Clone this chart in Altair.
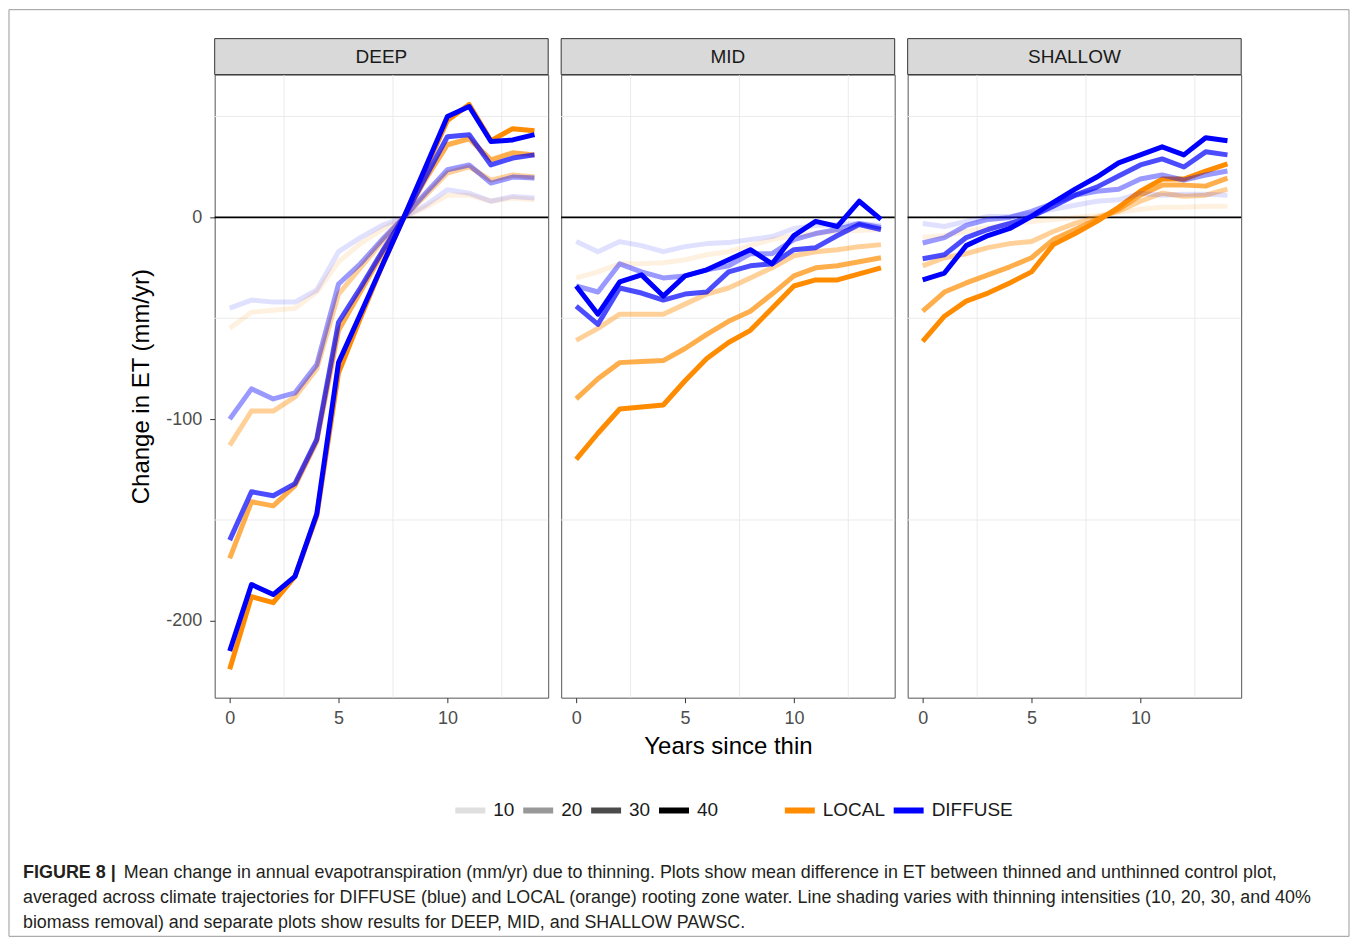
import altair as alt
import pandas as pd

FONT = "Liberation Sans"

years = list(range(15))
intensities = [10, 20, 30, 40]
sources = ["LOCAL", "DIFFUSE"]
source_colors = ["#FF8C00", "#0000FF"]
intensity_alpha = [0.12, 0.4, 0.7, 1.0]

# Mean change in ET (mm/yr) per year since thinning, by rooting depth class
deep_local = {
    10: [-55, -47, -46, -45, -37, -22, -13, -6, 0, 5, 11, 11, 8, 9.6, 8.7],
    20: [-113, -96, -96, -89, -75, -38, -25, -12, 0, 11, 22, 25, 18.5, 21, 20],
    30: [-169, -141, -143, -133, -111, -56, -37, -18, 0, 19, 36, 39, 28.5, 32, 31],
    40: [-224, -188, -191, -178, -148, -77, -50, -24, 0, 24, 48, 56, 38, 44, 43],
}
deep_diffuse = {
    10: [-45, -41, -42, -42, -36, -17, -10, -4, 0, 6, 13.7, 12, 8, 10.4, 9.6],
    20: [-100, -85, -90, -87, -73, -33, -23, -11, 0, 12, 23.6, 26, 17, 20, 19.5],
    30: [-160, -136, -138, -132, -110, -52, -35, -17, 0, 20, 40, 41, 26, 29.4, 31],
    40: [-215, -182, -187, -178, -147, -72, -48, -24, 0, 25, 50, 55, 37.6, 38.4, 41],
}
mid_local = {
    10: [-30, -27, -23, -23, -22.5, -21, -18.5, -17, -14, -11, -9, -8, -7, -6.5, -6],
    20: [-61, -55, -48, -48, -48, -43, -38, -35, -30, -25, -19, -17, -16, -14.5, -13.5],
    30: [-90, -80, -72, -71.5, -71, -65, -58, -51.5, -46.5, -38, -29, -25, -24, -22, -20],
    40: [-120, -107, -95, -94, -93, -81, -70, -62, -56, -45, -34, -31, -31, -28, -25],
}
mid_diffuse = {
    10: [-12, -17, -12, -14, -17, -14.5, -13, -12.5, -11, -9.5, -5.5, -4, -3.5, -3, -4],
    20: [-34, -37, -23, -27, -30, -29, -26, -24, -18, -18, -11, -8, -6, -3, -5],
    30: [-44, -53, -35, -37.5, -41, -38, -37, -27, -24, -23, -16, -15, -9, -3.5, -6],
    40: [-34, -48, -32, -28.5, -39, -29, -26, -21, -16, -23, -9, -2, -4.5, 8, -1],
}
shallow_local = {
    10: [-10, -9, -7, -5, -3.5, -2, -1, 0, 1, 2.5, 4, 5, 5, 5.5, 5.5],
    20: [-24, -20, -18, -15, -13, -12, -7, -3, 0, 3, 8, 12, 10.5, 11, 14],
    30: [-46.5, -37, -32.5, -28.5, -24.5, -20, -11, -6, -1, 4, 11, 16, 16, 15.5, 19.5],
    40: [-61.5, -49, -41.5, -37.5, -32.5, -27, -13.5, -8, -2, 5, 13, 19, 19, 23, 26.5],
}
shallow_diffuse = {
    10: [-3, -4.5, -2, 0.5, 0.5, 2, 4, 6, 8, 8.7, 12, 11, 11.5, 11.5, 11],
    20: [-12.7, -10, -4, -1, 0, 3, 7, 11, 13, 14, 19, 21, 18.5, 21, 23],
    30: [-20.5, -18.5, -10, -6, -3, 0.5, 5.5, 11, 15, 20.5, 26, 29, 25, 32.5, 31],
    40: [-31, -27.6, -14, -9, -5.5, 0.5, 7.5, 14, 20, 27, 31, 35, 31, 39.5, 38],
}

series = {
    ("DEEP", "LOCAL"): deep_local,
    ("DEEP", "DIFFUSE"): deep_diffuse,
    ("MID", "LOCAL"): mid_local,
    ("MID", "DIFFUSE"): mid_diffuse,
    ("SHALLOW", "LOCAL"): shallow_local,
    ("SHALLOW", "DIFFUSE"): shallow_diffuse,
}

x_ticks = [0, 5, 10]
y_ticks = [-200, -100, 0]
grid_years = [2.5, 7.5, 12.5]
grid_et = [-150, -50, 50]

caption_head = "FIGURE 8 |"
caption_lines = [
    "Mean change in annual evapotranspiration (mm/yr) due to thinning. Plots show mean difference in ET between thinned and unthinned control plot,",
    "averaged across climate trajectories for DIFFUSE (blue) and LOCAL (orange) rooting zone water. Line shading varies with thinning intensities (10, 20, 30, and 40%",
    "biomass removal) and separate plots show results for DEEP, MID, and SHALLOW PAWSC.",
]

rows = []
for (panel, source), by_intensity in series.items():
    for intensity in intensities:
        for year, value in zip(years, by_intensity[intensity]):
            rows.append({"panel": panel, "source": source, "intensity": intensity,
                         "year": year, "et": value})
df = pd.DataFrame(rows)

W, H = 334, 624
x_scale = alt.Scale(domain=[-0.69, 14.63], nice=False, zero=False)
y_scale = alt.Scale(domain=[-238.1, 70.8], nice=False, zero=False)
color_scale = alt.Scale(domain=sources, range=source_colors)
opacity_scale = alt.Scale(type="ordinal", domain=intensities, range=intensity_alpha)

opacity_legend = alt.Legend(
    title=None, orient="none", legendX=238, legendY=719, direction="horizontal",
    symbolType="stroke", symbolSize=900, symbolStrokeWidth=6, symbolStrokeColor="black",
    labelFontSize=19, labelFont=FONT, labelColor="#1a1a1a", labelOffset=5,
    columnPadding=-4, padding=0,
)
color_legend = alt.Legend(
    title=None, orient="none", legendX=568, legendY=719, direction="horizontal",
    symbolType="stroke", symbolSize=900, symbolStrokeWidth=6,
    labelFontSize=19, labelFont=FONT, labelColor="#1a1a1a", labelOffset=5,
    columnPadding=-4, padding=0,
)

# plain hyphen for negative tick labels
LABEL_EXPR = "'' + datum.value"


def x_enc(field, title):
    axis_kw = dict(values=x_ticks, labelPadding=7)
    if title:
        axis_kw.update(title=title, titleY=56, titleBaseline="alphabetic")
    else:
        axis_kw.update(title="")
    return alt.X(field, scale=x_scale, axis=alt.Axis(**axis_kw))


def y_enc(field, show_axis):
    if show_axis:
        axis = alt.Axis(values=y_ticks, title="Change in ET (mm/yr)", titleX=-66,
                        titleY=H / 2, titleBaseline="alphabetic", labelPadding=8,
                        labelExpr=LABEL_EXPR)
        return alt.Y(field, scale=y_scale, axis=axis)
    return alt.Y(field, scale=y_scale, axis=None)


def make_panel(name, show_y, x_title, extras=()):
    x = x_enc("year:Q", x_title)
    y = y_enc("et:Q", show_y)

    vgrid = alt.Chart(pd.DataFrame({"year": grid_years})).mark_rule(
        color="#ebebeb", strokeWidth=1).encode(x=x)
    hgrid = alt.Chart(pd.DataFrame({"et": grid_et})).mark_rule(
        color="#ebebeb", strokeWidth=1).encode(y=y)
    zero = alt.Chart(pd.DataFrame({"et": [0]})).mark_rule(
        color="black", strokeWidth=1.6).encode(y=y)

    def lines(source):
        return alt.Chart(df).transform_filter(
            (alt.datum.panel == name) & (alt.datum.source == source)
        ).mark_line(strokeWidth=5, strokeJoin="round").encode(
            x=x, y=y,
            color=alt.Color("source:N", scale=color_scale, legend=color_legend),
            opacity=alt.Opacity("intensity:O", scale=opacity_scale, legend=opacity_legend),
            detail="intensity:O",
        )

    strip_df = pd.DataFrame({"panel": [name]})
    strip = alt.Chart(strip_df).mark_rect(
        fill="#d9d9d9", stroke="#333333", strokeWidth=1).encode(
        x=alt.value(0), x2=alt.value(W), y=alt.value(-36), y2=alt.value(0))
    strip_text = alt.Chart(strip_df).mark_text(
        font=FONT, fontSize=19, color="#1a1a1a", baseline="middle").encode(
        x=alt.value(W / 2), y=alt.value(-18), text="panel:N")

    layers = [vgrid, hgrid, zero, lines("LOCAL"), lines("DIFFUSE"), strip, strip_text]
    layers.extend(extras)
    return alt.layer(*layers).properties(width=W, height=H)


# figure frame and caption, anchored to the first panel
one = pd.DataFrame({"k": [0]})
frame = alt.Chart(one).mark_rect(
    fillOpacity=0, stroke="#9a9a9a", strokeWidth=1).encode(
    x=alt.value(-206), x2=alt.value(1136), y=alt.value(-65), y2=alt.value(863))
cap_head = alt.Chart(one).mark_text(
    text=caption_head, font=FONT, fontSize=18, fontWeight="bold", color="#231f20",
    align="left", baseline="alphabetic").encode(x=alt.value(-192), y=alt.value(805))
cap_texts = []
for i, line in enumerate(caption_lines):
    cap_texts.append(alt.Chart(one).mark_text(
        text=line, font=FONT, fontSize=17.9, color="#231f20",
        align="left", baseline="alphabetic").encode(
        x=alt.value(-91 if i == 0 else -192), y=alt.value(805 + 25 * i)))

p_deep = make_panel("DEEP", True, None, [frame, cap_head] + cap_texts)
p_mid = make_panel("MID", False, "Years since thin")
p_shallow = make_panel("SHALLOW", False, None)

chart = alt.hconcat(p_deep, p_mid, p_shallow, spacing=13, bounds="flush").resolve_scale(
    color="shared", opacity="shared"
).resolve_legend(
    color="shared", opacity="shared"
).properties(
    padding={"left": 8, "top": 8, "right": 8, "bottom": 4},
    background="white",
).configure_view(
    stroke="#555555", strokeWidth=1
).configure_axis(
    domain=False, grid=False, ticks=True, tickColor="#333333", tickSize=5, tickWidth=1,
    labelFont=FONT, labelFontSize=18, labelColor="#4d4d4d",
    titleFont=FONT, titleFontSize=24, titleColor="#000000", titleFontWeight="normal",
)

chart.save("out.html", embed_options={"renderer": "svg", "actions": False})
